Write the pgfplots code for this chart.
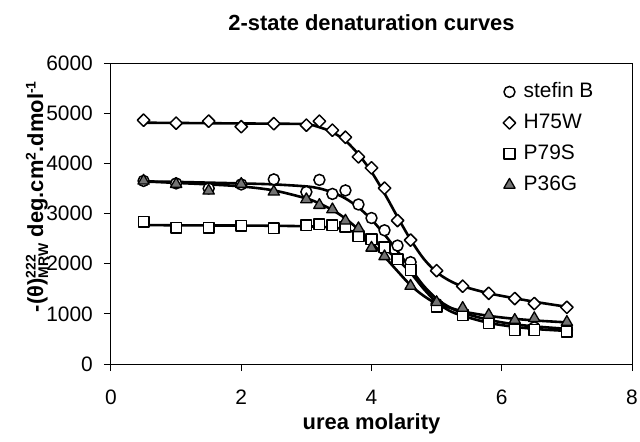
\documentclass[border=0pt]{standalone}
\usepackage{fontspec}
\setmainfont{Liberation Sans}
\usepackage{pgfplots}
\pgfplotsset{compat=1.18}

\begin{document}
\begin{tikzpicture}
\begin{axis}[
  name=ax,
  scale only axis, width=521bp, height=301bp,
  xmin=0, xmax=8, ymin=0, ymax=6000,
  xtick={0,2,4,6,8}, ytick={0,1000,2000,3000,4000,5000,6000},
  tick align=outside, tick pos=left, major tick length=7bp,
  axis line style={line width=1bp}, every tick/.style={line width=1bp, black},
  /pgf/number format/1000 sep={}, scaled y ticks=false,
  /pgf/number format/assume math mode=true,
  tick label style={font=\fontsize{21}{21}\selectfont},
  yticklabel style={anchor=east, inner sep=0pt, xshift=-11bp},
  xticklabel style={anchor=north, inner sep=0pt, yshift=-19bp},
  title={2-state denaturation curves},
  title style={font=\bfseries\fontsize{22}{22}\selectfont, at={(axis description cs:0.5,1.0897)}, anchor=base, inner sep=0pt},
  xlabel={urea molarity},
  xlabel style={font=\bfseries\fontsize{22}{22}\selectfont, at={(axis description cs:0.5,-0.219)}, anchor=base, inner sep=0pt},
  ylabel={-(θ)$^{\mbox{\fontsize{14}{14}\selectfont\bfseries 222}}_{\mbox{\fontsize{14}{14}\selectfont\bfseries MRW}}$ deg.cm$^{\mbox{\fontsize{14}{14}\selectfont\bfseries 2}}$.dmol$^{\mbox{\fontsize{14}{14}\selectfont\bfseries -1}}$},
  ylabel style={font=\bfseries\fontsize{22}{22}\selectfont, at={(axis description cs:-0.1305,0.5565)}, anchor=base, rotate=0, inner sep=0pt},
  legend style={draw=none, fill=none, inner sep=0pt, at={(axis cs:6.02,5637)}, anchor=north west,
    nodes={inner sep=0pt, text height=16bp, text depth=5bp}, row sep=10bp,
    font=\fontsize{21}{21}\selectfont},
  legend cell align=left,
  legend image code/.code={\draw[#1] plot coordinates {(6bp,0bp)} ; \path (0bp,0bp) (20bp,0bp);},
  every axis plot/.append style={line join=round},
]
% fitted curves
\addplot[black, line width=2.6bp, smooth, forget plot] coordinates {
(0.5,3640)(1,3630)(1.5,3615)(2,3600)(2.5,3580)(3,3540)(3.2,3500)(3.4,3420)(3.6,3300)(3.8,3120)(4,2880)(4.2,2580)(4.4,2250)(4.6,1900)(4.8,1560)(5,1300)(5.2,1130)(5.4,1020)(5.8,880)(6.2,790)(6.6,740)(7,700)};
\addplot[black, line width=2.6bp, smooth, forget plot] coordinates {
(0.5,4810)(1,4805)(1.5,4800)(2,4795)(2.5,4790)(3,4780)(3.2,4720)(3.4,4620)(3.6,4450)(3.8,4180)(4,3830)(4.2,3400)(4.4,2930)(4.6,2480)(4.8,2100)(5,1830)(5.2,1660)(5.4,1550)(5.8,1410)(6.2,1310)(6.6,1220)(7,1140)};
\addplot[black, line width=2.6bp, smooth, forget plot] coordinates {
(0.5,2770)(1,2765)(1.5,2762)(2,2760)(2.5,2755)(3,2745)(3.4,2720)(3.6,2680)(3.8,2600)(4,2470)(4.2,2300)(4.4,2080)(4.6,1820)(4.8,1500)(5,1230)(5.2,1060)(5.4,960)(5.8,820)(6.2,740)(6.6,690)(7,660)};
\addplot[black, line width=2.6bp, smooth, forget plot] coordinates {
(0.5,3640)(1,3610)(1.5,3580)(2,3540)(2.5,3460)(3,3300)(3.2,3200)(3.4,3070)(3.6,2900)(3.8,2680)(4,2420)(4.2,2140)(4.4,1850)(4.6,1570)(4.8,1360)(5,1210)(5.4,1050)(5.8,960)(6.2,900)(6.6,860)(7,830)};
% markers
\addplot[only marks, mark=*, mark size=5.5bp, mark options={fill=white, draw=black, line width=1.5bp}] coordinates {
(0.5,3650)(1,3600)(1.5,3500)(2,3580)(2.5,3680)(3,3430)(3.2,3670)(3.4,3390)(3.6,3460)(3.8,3180)(4,2910)(4.2,2665)(4.4,2360)(4.6,2030)(5,1200)(5.4,1010)(5.8,876)(6.2,711)(6.5,731)(7,677)};
\addlegendentry{stefin B}
\addplot[only marks, mark=square*, mark size=4.4bp, mark options={rotate=45, fill=white, draw=black, line width=1.5bp}] coordinates {
(0.5,4860)(1,4800)(1.5,4840)(2,4730)(2.5,4790)(3,4760)(3.2,4840)(3.4,4660)(3.6,4520)(3.8,4130)(4,3910)(4.2,3505)(4.4,2860)(4.6,2470)(5,1860)(5.4,1550)(5.8,1410)(6.2,1305)(6.5,1205)(7,1130)};
\addlegendentry{H75W}
\addplot[only marks, mark=square*, mark size=5.3bp, mark options={fill=white, draw=black, line width=1.5bp}] coordinates {
(0.5,2835)(1,2716)(1.5,2716)(2,2755)(2.5,2703)(3,2769)(3.2,2789)(3.4,2769)(3.6,2735)(3.8,2550)(4,2484)(4.2,2325)(4.4,2086)(4.6,1873)(5,1141)(5.4,976)(5.8,811)(6.2,677)(6.5,677)(7,643)};
\addlegendentry{P79S}
\addplot[only marks, mark=triangle*, mark size=6.5bp, mark options={fill=black!55, draw=black, line width=1.3bp}] coordinates {
(0.5,3651)(1,3586)(1.5,3452)(2,3586)(2.5,3432)(3,3281)(3.2,3167)(3.4,3080)(3.6,2855)(3.8,2703)(4,2315)(4.2,2145)(4.6,1554)(5,1230)(5.4,1115)(5.8,976)(6.2,876)(6.5,910)(7,835)};
\addlegendentry{P36G}
\end{axis}
\pgfresetboundingbox
\path (ax.south west) ++(-111bp,-78bp) rectangle ++(640bp,442bp);
\end{tikzpicture}
\end{document}
